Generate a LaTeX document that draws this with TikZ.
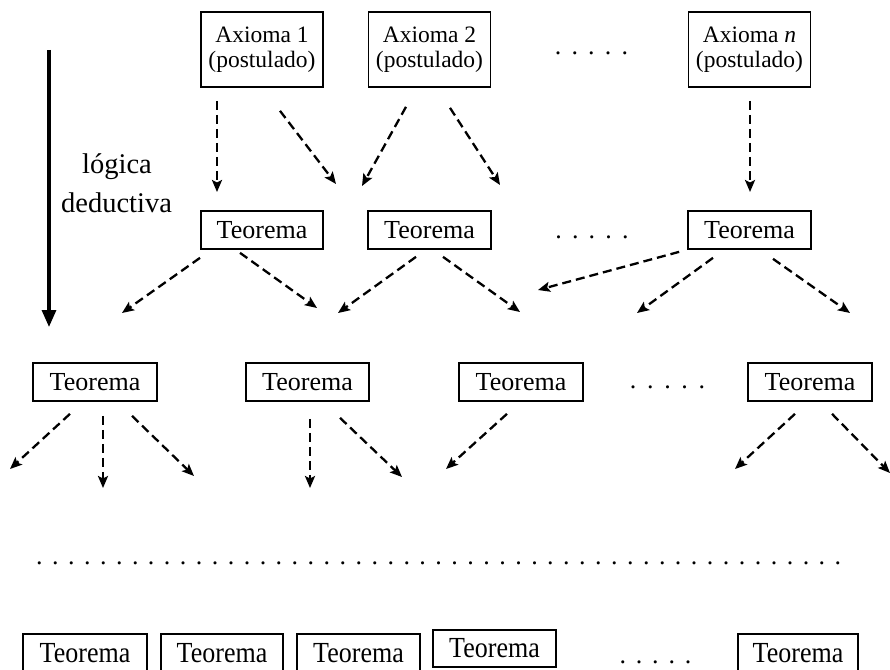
\documentclass[tikz,border=0pt]{standalone}
\usepackage{fontspec}
\setmainfont{Liberation Serif}
\usepackage{graphicx}
\usetikzlibrary{arrows.meta}
\newcommand\rowofdots[2]{\foreach\i in {1,...,#1}{\makebox[#2][c]{.}}}
\begin{document}
\begin{tikzpicture}[x=1pt,y=-1pt,
  ax/.style={draw,line width=1.7pt,inner sep=0pt,minimum width=122pt,minimum height=75pt,align=center,font=\fontsize{23.5}{25}\selectfont},
  th/.style={draw,line width=1.7pt,inner sep=0pt,minimum width=123pt,minimum height=38pt,font=\fontsize{26}{30}\selectfont},
  dd/.style={inner sep=0pt,anchor=base,font=\fontsize{26}{30}\selectfont},
  conn/.style={line width=2.3pt,dash pattern=on 9pt off 5pt,-{Stealth[length=12pt,width=10pt,inset=2.5pt]}},
  big/.style={line width=3.2pt,-{Triangle[length=17pt,width=14pt]}},
  lbl/.style={anchor=base,inner sep=0pt,font=\fontsize{28.5}{34}\selectfont}
]
\useasboundingbox (0,0) rectangle (890,669);

% axioms
\node[ax] (A1) at (262,49.5) {Axioma 1\\(postulado)};
\node[ax] (A2) at (429.5,49.5) {Axioma 2\\(postulado)};
\node[ax] (An) at (749.5,49.5) {Axioma \textit{n}\\(postulado)};
\node[dd] (d1) at (591.5,54.3) {\rowofdots{5}{16.7pt}};

% row 2
\node[th,minimum width=122pt] (T1) at (262,230) {Teorema};
\node[th] (T2) at (429.5,230) {Teorema};
\node[th] (T3) at (749.5,230) {Teorema};
\node[dd] (d2) at (592,238.3) {\rowofdots{5}{16.7pt}};

% row 3
\node[th,minimum width=124pt] (R1) at (95,382) {Teorema};
\node[th] (R2) at (307.5,382) {Teorema};
\node[th,minimum width=124pt] (R3) at (521,382) {Teorema};
\node[th,minimum width=124pt] (R4) at (810,382) {Teorema};
\node[dd] (d3) at (667.5,388.3) {\rowofdots{5}{17.2pt}};

% long row of dots
\node[dd] (d5) at (438.7,564.3) {\rowofdots{51}{15.97pt}};

% bottom row
\node[th,minimum width=124pt] (B1) at (85,653) {\scalebox{1}[1.12]{Teorema}};
\node[th,minimum width=122pt] (B2) at (222,653) {\scalebox{1}[1.12]{Teorema}};
\node[th] (B3) at (358.5,653) {\scalebox{1}[1.12]{Teorema}};
\node[th,minimum height=37pt] (B4) at (494.5,648.5) {\scalebox{1}[1.12]{Teorema}};
\node[th,minimum width=120pt] (B5) at (798,653) {\scalebox{1}[1.12]{Teorema}};
\node[dd] (d4) at (655.5,663.3) {\rowofdots{5}{16.3pt}};

% label and big arrow
\node[lbl] (L1) at (117,173) {lógica};
\node[lbl] (L2) at (116.5,212) {deductiva};
\coordinate (bs) at (49,50);
\coordinate (be) at (49,327);
\draw[big] (bs) -- (be);

% end points
\coordinate (e1) at (217,192);
\coordinate (e2) at (336,184);
\coordinate (e3) at (362,186);
\coordinate (e4) at (500,185);
\coordinate (e5) at (750,192);
\coordinate (e6) at (122,313);
\coordinate (e7) at (317,308);
\coordinate (e8) at (338,313);
\coordinate (e9) at (520,312);
\coordinate (e10) at (538,290);
\coordinate (e11) at (637,313);
\coordinate (e12) at (850,313);
\coordinate (e13) at (10,469);
\coordinate (e14) at (103,488);
\coordinate (e15) at (194,476);
\coordinate (e16) at (310,488);
\coordinate (e17) at (402,477);
\coordinate (e18) at (446,469);
\coordinate (e19) at (735,469);
\coordinate (e20) at (890,473);

% connectors row 1
\draw[conn] ([shift={(-45,13)}]A1.south) -- (e1);
\draw[conn] ([shift={(18,23)}]A1.south) -- (e2);
\draw[conn] ([shift={(-23.5,19)}]A2.south) -- (e3);
\draw[conn] ([shift={(20.5,20)}]A2.south) -- (e4);
\draw[conn] ([shift={(0.5,13)}]An.south) -- (e5);
% row 2
\draw[conn] ([shift={(-62,8)}]T1.south) -- (e6);
\draw[conn] ([shift={(-22,3)}]T1.south) -- (e7);
\draw[conn] ([shift={(-13.5,7)}]T2.south) -- (e8);
\draw[conn] ([shift={(13.5,7)}]T2.south) -- (e9);
\draw[conn] ([shift={(-8,2)}]T3.south west) -- (e10);
\draw[conn] ([shift={(-36.5,8)}]T3.south) -- (e11);
\draw[conn] ([shift={(23.5,9)}]T3.south) -- (e12);
% row 3
\draw[conn] ([shift={(-25,12)}]R1.south) -- (e13);
\draw[conn] ([shift={(8,14)}]R1.south) -- (e14);
\draw[conn] ([shift={(37,14)}]R1.south) -- (e15);
\draw[conn] ([shift={(2.5,17)}]R2.south) -- (e16);
\draw[conn] ([shift={(32.5,16)}]R2.south) -- (e17);
\draw[conn] ([shift={(-14,12)}]R3.south) -- (e18);
\draw[conn] ([shift={(-15,12)}]R4.south) -- (e19);
\draw[conn] ([shift={(22,12)}]R4.south) -- (e20);
\end{tikzpicture}
\end{document}
